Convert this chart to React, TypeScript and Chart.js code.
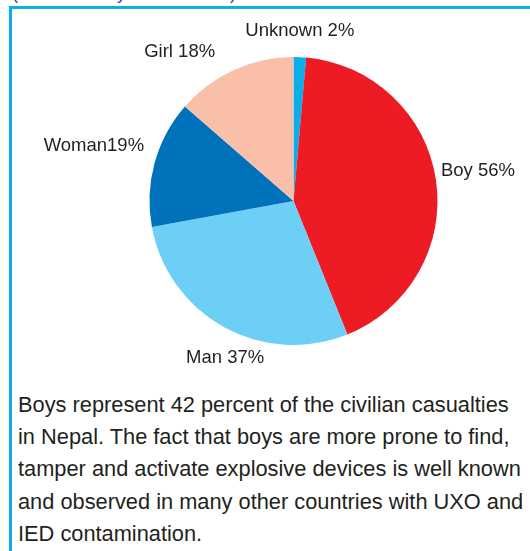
import React, { useEffect, useRef } from "react";
import { Chart, registerables } from "chart.js";

Chart.register(...registerables);

const categories = ["Unknown", "Boy", "Man", "Woman", "Girl"];
const shares = [1.4, 42.5, 28.2, 14.3, 13.6];
const sliceLabels = ["Unknown 2%", "Boy 56%", "Man 37%", "Woman19%", "Girl 18%"];
const sliceColors = ["#0aaeeb", "#ed1c24", "#6dcff6", "#0072bc", "#f9bfa9"];

// label placement relative to each slice's outer mid-point
const labelOffsets = [
  { dx: 0, dy: -26, align: "center" },
  { dx: 5, dy: -8.5, align: "left" },
  { dx: 1, dy: 30.5, align: "center" },
  { dx: -10.5, dy: -17.5, align: "right" },
  { dx: -18.7, dy: -18, align: "right" },
];

const captionLines = [
  "Boys represent 42 percent of the civilian casualties",
  "in Nepal. The fact that boys are more prone to find,",
  "tamper and activate explosive devices is well known",
  "and observed in many other countries with UXO and",
  "IED contamination.",
];

const FONT = '"Liberation Sans", Arial, Helvetica, sans-serif';

const labelPlugin = {
  id: "sliceLabels",
  afterDraw(chart: any) {
    const ctx = chart.ctx;
    const meta = chart.getDatasetMeta(0);
    ctx.save();
    ctx.font = `18.5px ${FONT}`;
    ctx.fillStyle = "#231f20";
    ctx.textBaseline = "middle";
    meta.data.forEach((arc: any, i: number) => {
      const { x, y, startAngle, endAngle, outerRadius } = arc.getProps(
        ["x", "y", "startAngle", "endAngle", "outerRadius"],
        true
      );
      const mid = (startAngle + endAngle) / 2;
      const ax = x + Math.cos(mid) * outerRadius;
      const ay = y + Math.sin(mid) * outerRadius;
      const o = labelOffsets[i];
      ctx.textAlign = o.align;
      ctx.fillText(sliceLabels[i], ax + o.dx, ay + o.dy);
    });
    ctx.restore();
  },
};

export default function App() {
  const canvasRef = useRef<HTMLCanvasElement | null>(null);

  useEffect(() => {
    if (!canvasRef.current) return;
    const chart = new Chart(canvasRef.current, {
      type: "pie",
      data: {
        labels: categories,
        datasets: [
          {
            data: shares,
            backgroundColor: sliceColors,
            borderWidth: 0,
          },
        ],
      },
      options: {
        animation: false,
        responsive: false,
        maintainAspectRatio: false,
        layout: { padding: { left: 149.5, top: 57, right: 92.5, bottom: 35 } },
        plugins: {
          legend: { display: false },
          tooltip: { enabled: false },
        },
      },
      plugins: [labelPlugin],
    });
    return () => chart.destroy();
  }, []);

  return (
    <div
      style={{
        position: "fixed",
        left: 0,
        top: 0,
        width: 530,
        height: 551,
        overflow: "hidden",
        background: "#fff",
        fontFamily: FONT,
      }}
    >
      <div
        style={{
          position: "absolute",
          left: 12,
          top: -16,
          fontSize: 18,
          lineHeight: "18px",
          color: "#1c4e9a",
          whiteSpace: "nowrap",
        }}
      >
        (Casualties by victim status)
      </div>
      <div
        style={{
          position: "absolute",
          left: 9,
          top: 6,
          width: 540,
          height: 560,
          borderTop: "3px solid #0aaeeb",
          borderLeft: "3px solid #0aaeeb",
          boxSizing: "border-box",
        }}
      />
      <canvas
        ref={canvasRef}
        width={530}
        height={380}
        style={{ position: "absolute", left: 0, top: 0, width: 530, height: 380 }}
      />
      <div
        style={{
          position: "absolute",
          left: 18,
          top: 389,
          fontSize: 21.8,
          lineHeight: "32.2px",
          color: "#231f20",
          whiteSpace: "nowrap",
        }}
      >
        {captionLines.map((line, i) => (
          <div key={i}>{line}</div>
        ))}
      </div>
    </div>
  );
}
